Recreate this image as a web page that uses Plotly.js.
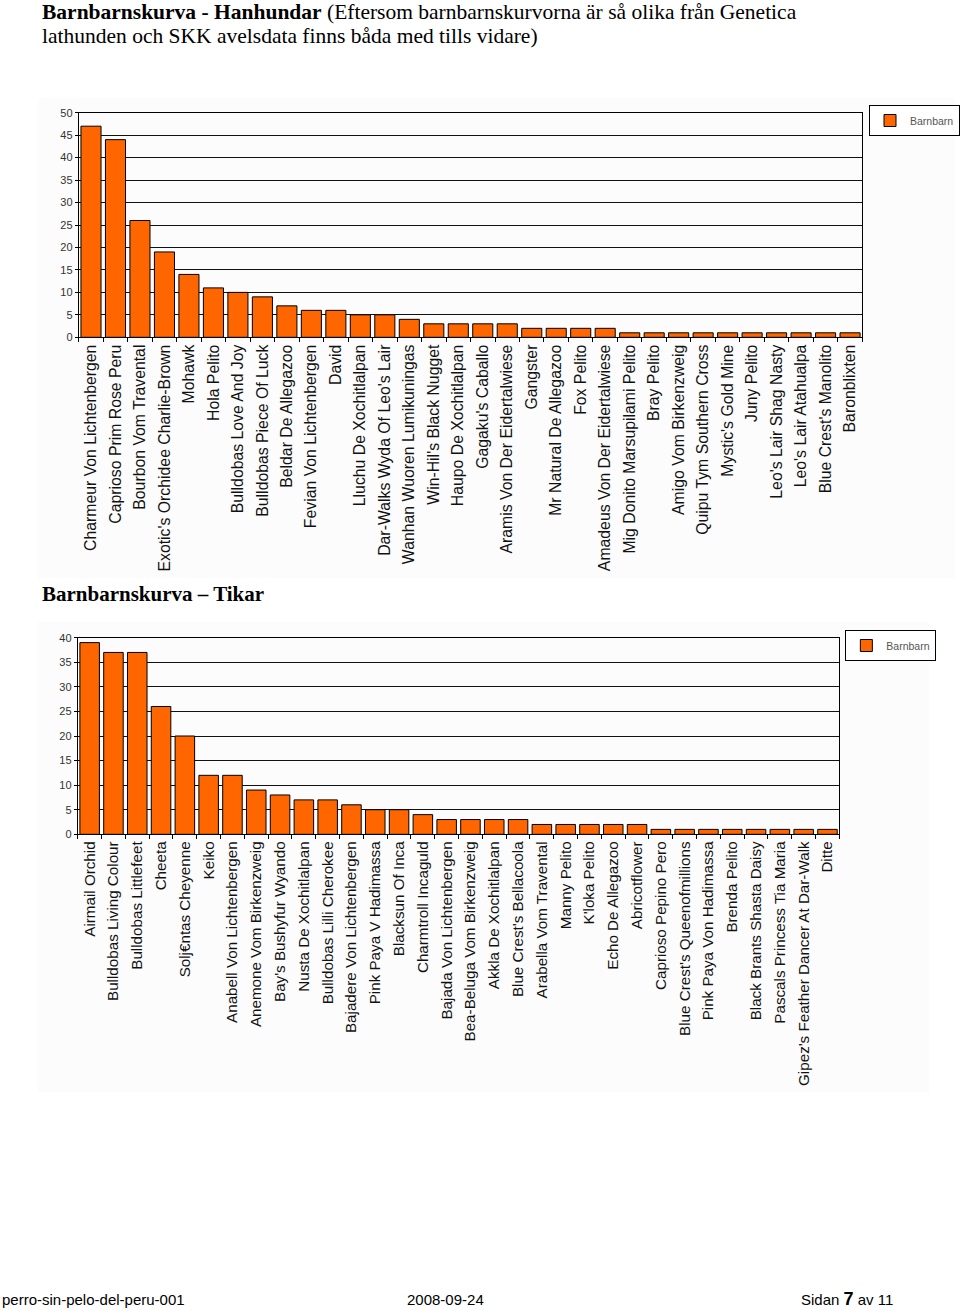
<!DOCTYPE html>
<html>
<head>
<meta charset="utf-8">
<script src="https://cdn.plot.ly/plotly-3.0.1.min.js"></script>
<style>
html,body{margin:0;padding:0;background:#fff;}
#chart{width:960px;height:1310px;}
</style>
</head>
<body>
<div id="chart"></div>
<script>
// ---- Data: Barnbarnskurva - Hanhundar ----
const maleNames = [
  "Charmeur Von Lichtenbergen","Caprioso Prim Rose Peru","Bourbon Vom Travental",
  "Exotic's Orchidee Charlie-Brown","Mohawk","Hola Pelito","Bulldobas Love And Joy",
  "Bulldobas Piece Of Luck","Beldar De Allegazoo","Fevian Von Lichtenbergen","David",
  "Lluchu De Xochitlalpan","Dar-Walks Wyda Of Leo's Lair","Wanhan Wuoren Lumikuningas",
  "Win-Hil's Black Nugget","Haupo De Xochitlalpan","Gagaku's Caballo",
  "Aramis Von Der Eidertalwiese","Gangster","Mr Natural De Allegazoo","Fox Pelito",
  "Amadeus Von Der Eidertalwiese","Mig Donito Marsupilami Pelito","Bray Pelito",
  "Amigo Vom Birkenzweig","Quipu Tym Southern Cross","Mystic's Gold Mine","Juny Pelito",
  "Leo's Lair Shag Nasty","Leo's Lair Atahualpa","Blue Crest's Manolito","Baronblixten"
];
const maleValues = [47,44,26,19,14,11,10,9,7,6,6,5,5,4,3,3,3,3,2,2,2,2,1,1,1,1,1,1,1,1,1,1];

// ---- Data: Barnbarnskurva - Tikar ----
const femaleNames = [
  "Airmail Orchid","Bulldobas Living Colour","Bulldobas Littlefeet","Cheeta",
  "Solj€ntas Cheyenne","Keiko","Anabell Von Lichtenbergen","Anemone Vom Birkenzweig",
  "Bay's Bushyfur Wyando","Nusta De Xochitlalpan","Bulldobas Lilli Cherokee",
  "Bajadere Von Lichtenbergen","Pink Paya V Hadimassa","Blacksun Of Inca",
  "Charmtroll Incaguld","Bajada Von Lichtenbergen","Bea-Beluga Vom Birkenzweig",
  "Akkla De Xochitlalpan","Blue Crest's Bellacoola","Arabella Vom Travental",
  "Manny Pelito","K'loka Pelito","Echo De Allegazoo","Abricotflower",
  "Caprioso Pepino Pero","Blue Crest's Queenofmillions","Pink Paya Von Hadimassa",
  "Brenda Pelito","Black Brants Shasta Daisy","Pascals Princess Tia Maria",
  "Gipez's Feather Dancer At Dar-Walk","Ditte"
];
const femaleValues = [39,37,37,26,20,12,12,9,8,7,7,6,5,5,4,3,3,3,3,2,2,2,2,2,1,1,1,1,1,1,1,1];

const seriesName = "Barnbarn";
const maleTitleBold = "Barnbarnskurva - Hanhundar";
const maleTitleRest1 = " (Eftersom barnbarnskurvorna är så olika från Genetica";
const maleTitleRest2 = "lathunden och SKK avelsdata finns båda med tills vidare)";
const femaleTitle = "Barnbarnskurva – Tikar";
const footerLeft = "perro-sin-pelo-del-peru-001";
const footerMid = "2008-09-24";
const footerPage = "7";
const footerTotal = "11";

// ---- Layout helpers ----
const W = 960, H = 1310;
const px = v => v / W;
const py = v => 1 - v / H;

const ORANGE = "#FF6600";
const barStyle = {color: ORANGE, line: {color: "#000", width: 1}};

const traces = [
  {type: "bar", x: maleNames, y: maleValues, name: seriesName, marker: barStyle,
   xaxis: "x", yaxis: "y", legend: "legend", hoverinfo: "x+y"},
  {type: "bar", x: femaleNames, y: femaleValues, name: seriesName, marker: barStyle,
   xaxis: "x2", yaxis: "y2", legend: "legend2", hoverinfo: "x+y"}
];

const xCommon = {
  type: "category", tickangle: -90, automargin: false,
  showline: true, mirror: true, linecolor: "#000", linewidth: 1,
  ticks: "outside", ticklen: 4, tickcolor: "#000", tickson: "boundaries",
  showgrid: false, zeroline: false, fixedrange: true
};
const yCommon = {
  automargin: false, dtick: 5, tick0: 0,
  tickfont: {family: "Liberation Sans, Arial, sans-serif", size: 11, color: "#333"},
  showline: true, mirror: true, linecolor: "#000", linewidth: 1,
  ticks: "outside", ticklen: 3, tickcolor: "#000",
  showgrid: true, gridcolor: "#111", gridwidth: 1, zeroline: false, fixedrange: true
};

const legendCommon = {
  bgcolor: "#fff", bordercolor: "#000", borderwidth: 1,
  font: {family: "Liberation Sans, Arial, sans-serif", size: 10.5, color: "#555"},
  xanchor: "left", yanchor: "top", itemwidth: 30, itemclick: false, itemdoubleclick: false
};

const xFont = s => ({family: "Liberation Sans, Arial, sans-serif", size: s, color: "#111"});

const layout = {
  width: W, height: H,
  margin: {l: 0, r: 0, t: 0, b: 0},
  paper_bgcolor: "#fff", plot_bgcolor: "#fff",
  bargap: 0.18,
  showlegend: true,
  xaxis: Object.assign({}, xCommon, {domain: [px(79), px(865)], anchor: "y", tickfont: xFont(15.8)}),
  yaxis: Object.assign({}, yCommon, {domain: [py(337.3), py(112.7)], range: [0, 50], anchor: "x"}),
  xaxis2: Object.assign({}, xCommon, {domain: [px(78), px(842)], anchor: "y2", tickfont: xFont(15.2)}),
  yaxis2: Object.assign({}, yCommon, {domain: [py(834.3), py(637.7)], range: [0, 40], anchor: "x2"}),
  legend: Object.assign({}, legendCommon, {x: px(872), y: py(105)}),
  legend2: Object.assign({}, legendCommon, {x: px(848), y: py(630)}),
  shapes: [
    {type: "rect", xref: "paper", yref: "paper", layer: "below",
     x0: px(38), x1: px(958), y0: py(578), y1: py(98), fillcolor: "#fcfcfc", line: {width: 0}},
    {type: "rect", xref: "paper", yref: "paper", layer: "below",
     x0: px(38), x1: px(932), y0: py(1092), y1: py(622), fillcolor: "#fcfcfc", line: {width: 0}}
  ],
  annotations: [
    {xref: "paper", yref: "paper", x: px(40), y: py(-2), xanchor: "left", yanchor: "top",
     showarrow: false, align: "left",
     text: "<b>" + maleTitleBold + "</b>" + maleTitleRest1,
     font: {family: "Liberation Serif, Times New Roman, serif", size: 21.5, color: "#000"}},
    {xref: "paper", yref: "paper", x: px(40), y: py(22), xanchor: "left", yanchor: "top",
     showarrow: false, align: "left", text: maleTitleRest2,
     font: {family: "Liberation Serif, Times New Roman, serif", size: 21.5, color: "#000"}},
    {xref: "paper", yref: "paper", x: px(40), y: py(580), xanchor: "left", yanchor: "top",
     showarrow: false, align: "left", text: "<b>" + femaleTitle + "</b>",
     font: {family: "Liberation Serif, Times New Roman, serif", size: 21, color: "#000"}},
    {xref: "paper", yref: "paper", x: px(0), y: py(1289), xanchor: "left", yanchor: "top",
     showarrow: false, text: footerLeft,
     font: {family: "Liberation Sans Narrow, Liberation Sans, Arial, sans-serif", size: 15, color: "#000"}},
    {xref: "paper", yref: "paper", x: px(406), y: py(1289), xanchor: "left", yanchor: "top",
     showarrow: false, text: footerMid,
     font: {family: "Liberation Sans Narrow, Liberation Sans, Arial, sans-serif", size: 15, color: "#000"}},
    {xref: "paper", yref: "paper", x: px(802), y: py(1287), xanchor: "left", yanchor: "top",
     showarrow: false,
     text: "Sidan <b><span style='font-size:18px'>" + footerPage + "</span></b> av " + footerTotal,
     font: {family: "Liberation Sans Narrow, Liberation Sans, Arial, sans-serif", size: 15, color: "#000"}}
  ]
};

Plotly.newPlot("chart", traces, layout, {displayModeBar: false, staticPlot: false});
</script>
</body>
</html>
